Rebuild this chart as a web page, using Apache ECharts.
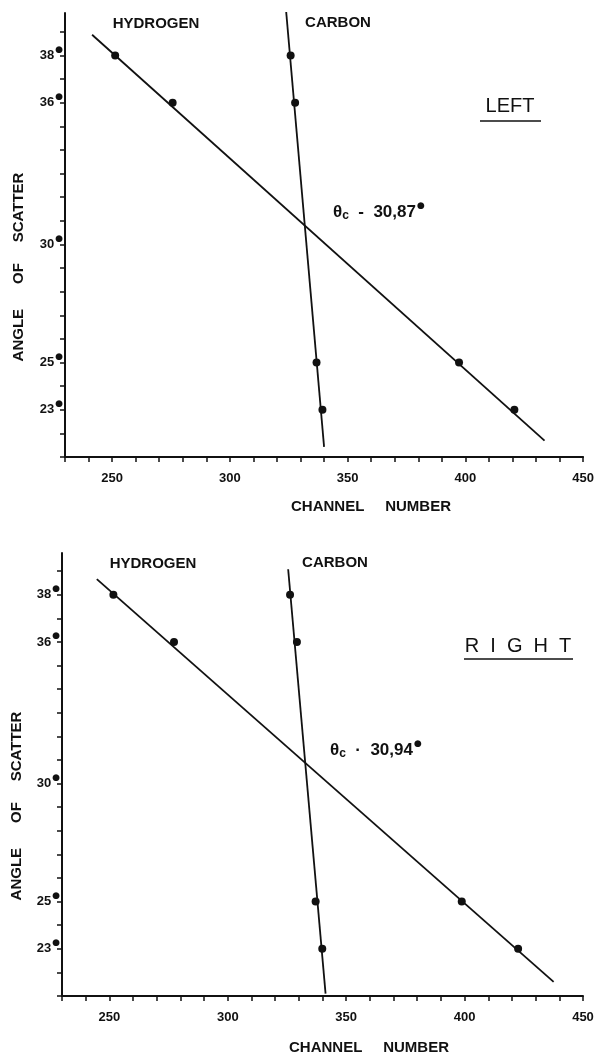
<!DOCTYPE html>
<html>
<head>
<meta charset="utf-8">
<script src="https://cdn.jsdelivr.net/npm/echarts@6/dist/echarts.min.js"></script>
<style>
html,body{margin:0;padding:0;background:#fff;}
#chart{width:597px;height:1058px;}
</style>
</head>
<body>
<div id="chart"></div>
<script>
// ---- data ----
const angles = [38, 36, 25, 23];
// LEFT panel: channel numbers
const leftHydrogenCh = [251.3, 275.7, 397.3, 420.8];
const leftCarbonCh = [325.8, 327.7, 336.8, 339.3];
// fitted lines (endpoints as drawn): [channel, angle]
const leftHydrogenFit = [[241.5, 38.88], [433.6, 21.69]];
const leftCarbonFit = [[323.9, 39.86], [340.0, 21.43]];
// RIGHT panel
const rightHydrogenCh = [251.7, 277.3, 398.8, 422.6];
const rightCarbonCh = [326.3, 329.2, 337.1, 339.9];
const rightHydrogenFit = [[244.7, 38.66], [437.6, 21.6]];
const rightCarbonFit = [[325.5, 39.08], [341.3, 21.1]];
// axis ticks / labels
const xTickLabels = [250, 300, 350, 400, 450];
const yTickValues = [21,22,23,24,25,26,27,28,29,30,31,32,33,34,35,36,37,38,39];
const yTickLabels = [23, 25, 30, 36, 38];
const thetaLeft = '30,87';
const thetaRight = '30,94';

const FONT = "'Liberation Sans', Arial, sans-serif";
const INK = '#111';

function pts(ch) { return ch.map((c, i) => [c, angles[i]]); }

function xAxisFor(gi) {
  return {
    type: 'value', gridIndex: gi, min: 230, max: 450, interval: 10,
    axisLine: { show: true, onZero: false, lineStyle: { color: INK, width: 2 } },
    axisTick: { show: true, length: 5, lineStyle: { color: INK, width: 1.5 } },
    axisLabel: { customValues: xTickLabels, margin: 15, color: INK,
      fontFamily: FONT, fontWeight: 'bold', fontSize: 13 },
    splitLine: { show: false }
  };
}
function yAxisFor(gi, maxV) {
  return {
    type: 'value', gridIndex: gi, min: 21, max: maxV,
    axisLine: { show: true, onZero: false, lineStyle: { color: INK, width: 2 } },
    axisTick: { show: true, length: 5, customValues: yTickValues, lineStyle: { color: INK, width: 1.5 } },
    axisLabel: { customValues: yTickLabels, margin: 2, color: INK,
      formatter: v => '{n|' + v + '}{d|●}',
      rich: {
        n: { fontFamily: FONT, fontWeight: 'bold', fontSize: 13, color: INK },
        d: { fontFamily: 'DejaVu Sans', fontSize: 9, color: INK, padding: [0, 0, 12, 1] }
      } },
    splitLine: { show: false }
  };
}

function lineSeries(data, xi) {
  return { type: 'line', xAxisIndex: xi, yAxisIndex: xi, data: data, symbol: 'none',
    lineStyle: { color: INK, width: 1.8 }, silent: true, z: 2 };
}
function dotSeries(data, xi) {
  return { type: 'scatter', xAxisIndex: xi, yAxisIndex: xi, data: data, symbol: 'circle',
    symbolSize: 8, itemStyle: { color: INK, opacity: 1 }, silent: true, z: 3 };
}

function txt(x, y, text, size, opts) {
  return Object.assign({ type: 'text', x: x, y: y, style: Object.assign({
    text: text, fill: INK, font: (opts && opts.weight ? opts.weight + ' ' : '') + size + 'px ' + FONT,
    align: 'center', verticalAlign: 'middle' }, opts && opts.style) }, opts && opts.el);
}
function theta(x, y, val, sep) {
  return { type: 'text', x: x, y: y, style: {
    text: '{t|θ}{s|c}{t|  ' + sep + '  ' + val + '}{d|●}',
    align: 'left', verticalAlign: 'middle',
    rich: {
      t: { fontFamily: FONT, fontWeight: 'bold', fontSize: 17, fill: INK },
      s: { fontFamily: FONT, fontWeight: 'bold', fontSize: 12, fill: INK, padding: [8, 0, 0, 0] },
      d: { fontFamily: 'DejaVu Sans', fontSize: 9, fill: INK, padding: [0, 0, 12, 1] }
    } } };
}

const chart = echarts.init(document.getElementById('chart'), null, { renderer: 'canvas' });
chart.setOption({
  backgroundColor: '#fff',
  animation: false,
  grid: [
    { left: 65, top: 13, width: 523, height: 444 },
    { left: 62, top: 553, width: 521, height: 443 }
  ],
  xAxis: [xAxisFor(0), xAxisFor(1)],
  yAxis: [yAxisFor(0, 39.8), yAxisFor(1, 39.77)],
  series: [
    lineSeries(leftHydrogenFit, 0), lineSeries(leftCarbonFit, 0),
    dotSeries(pts(leftHydrogenCh), 0), dotSeries(pts(leftCarbonCh), 0),
    lineSeries(rightHydrogenFit, 1), lineSeries(rightCarbonFit, 1),
    dotSeries(pts(rightHydrogenCh), 1), dotSeries(pts(rightCarbonCh), 1)
  ],
  graphic: [
    // top panel
    txt(156, 24, 'HYDROGEN', 15, { weight: 'bold' }),
    txt(338, 23, 'CARBON', 15, { weight: 'bold' }),
    txt(510, 106, 'LEFT', 20),
    { type: 'line', shape: { x1: 480, y1: 121, x2: 541, y2: 121 }, style: { stroke: INK, lineWidth: 1.5 } },
    theta(333, 212, thetaLeft, '-'),
    txt(19, 267, 'ANGLE      OF     SCATTER', 15, { weight: 'bold', el: { rotation: Math.PI / 2 } }),
    txt(371, 507, 'CHANNEL     NUMBER', 15, { weight: 'bold' }),
    // bottom panel
    txt(153, 564, 'HYDROGEN', 15, { weight: 'bold' }),
    txt(335, 563, 'CARBON', 15, { weight: 'bold' }),
    txt(518, 646, 'R  I  G  H  T', 20),
    { type: 'line', shape: { x1: 464, y1: 659, x2: 573, y2: 659 }, style: { stroke: INK, lineWidth: 1.5 } },
    theta(330, 750, thetaRight, '·'),
    txt(17, 806, 'ANGLE      OF     SCATTER', 15, { weight: 'bold', el: { rotation: Math.PI / 2 } }),
    txt(369, 1048, 'CHANNEL     NUMBER', 15, { weight: 'bold' })
  ]
});
</script>
</body>
</html>
